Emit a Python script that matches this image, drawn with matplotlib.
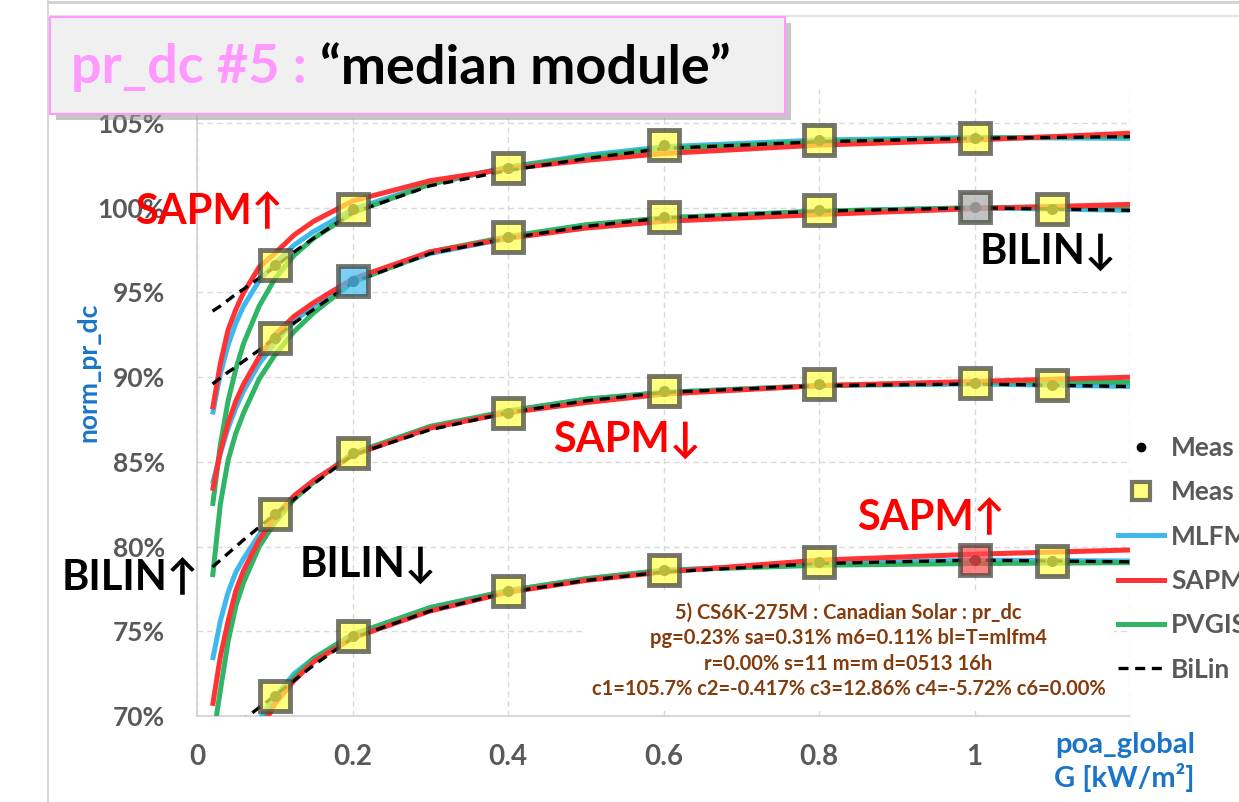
import matplotlib
matplotlib.use("Agg")
import matplotlib.pyplot as plt
from matplotlib.lines import Line2D
from matplotlib.patches import Rectangle

plt.rcParams['font.family'] = ['Lato', 'DejaVu Sans']

# ---- data -------------------------------------------------------------
G = [0.02, 0.03, 0.04, 0.05, 0.06, 0.08, 0.1, 0.125, 0.15, 0.2,
     0.3, 0.4, 0.5, 0.6, 0.8, 1.0, 1.2]

# four module conditions (top to bottom), normalised pr_dc in %
mlfm_1 = [87.8, 90.2, 91.9, 93.2, 94.2, 95.7, 96.7, 97.8, 98.6, 99.9,
          101.4, 102.4, 103.1, 103.6, 104.0, 104.15, 104.1]
sapm_1 = [88.1, 90.8, 92.8, 94.0, 95.0, 96.5, 97.3, 98.4, 99.2, 100.4,
          101.6, 102.3, 102.8, 103.2, 103.7, 104.0, 104.4]
pvgis_1 = [82.4, 86.0, 88.6, 90.5, 92.0, 94.2, 95.8, 97.2, 98.2, 99.7,
           101.4, 102.4, 103.0, 103.5, 103.9, 104.1, 104.25]
bilin_1 = [93.9, 94.2, 94.55, 94.9, 95.2, 95.85, 96.5, 97.4, 98.2, 99.7,
           101.3, 102.2, 102.9, 103.5, 103.9, 104.1, 104.2]

mlfm_2 = [83.7, 85.5, 87.0, 88.2, 89.2, 90.8, 92.0, 93.3, 94.2, 95.7,
          97.3, 98.2, 98.9, 99.4, 99.8, 100.0, 99.85]
sapm_2 = [83.3, 85.6, 87.3, 88.6, 89.6, 91.2, 92.5, 93.6, 94.4, 95.8,
          97.4, 98.2, 98.8, 99.2, 99.6, 99.95, 100.2]
pvgis_2 = [78.2, 82.5, 85.1, 86.7, 87.9, 89.9, 91.3, 92.7, 93.8, 95.6,
           97.4, 98.3, 99.0, 99.4, 99.8, 100.0, 100.1]
bilin_2 = [89.6, 89.95, 90.3, 90.6, 90.95, 91.6, 92.3, 93.2, 94.0, 95.6,
           97.3, 98.2, 98.9, 99.4, 99.8, 100.0, 99.85]

mlfm_3 = [73.3, 75.6, 77.3, 78.5, 79.3, 80.7, 81.8, 83.0, 83.9, 85.4,
          87.0, 88.0, 88.7, 89.1, 89.5, 89.6, 89.45]
sapm_3 = [70.6, 73.5, 75.6, 77.4, 78.6, 80.4, 81.7, 83.0, 83.9, 85.4,
          87.0, 87.9, 88.5, 89.0, 89.5, 89.75, 90.0]
pvgis_3 = [68.5, 71.5, 74.4, 76.5, 77.9, 80.0, 81.4, 82.8, 83.8, 85.5,
           87.1, 88.0, 88.7, 89.1, 89.5, 89.7, 89.7]
bilin_3 = [78.8, 79.2, 79.6, 80.0, 80.4, 81.15, 81.9, 82.8, 83.7, 85.4,
           86.9, 87.9, 88.6, 89.1, 89.5, 89.6, 89.45]

mlfm_4 = [61.5, 64.0, 66.0, 67.5, 68.6, 69.8, 71.1, 72.5, 73.4, 74.8,
          76.4, 77.4, 78.1, 78.6, 79.0, 79.2, 79.15]
sapm_4 = [55.0, 59.0, 62.5, 65.5, 67.2, 69.0, 70.7, 72.1, 73.2, 74.6,
          76.2, 77.3, 78.0, 78.5, 79.2, 79.55, 79.8]
pvgis_4 = [58.0, 62.0, 65.0, 66.5, 67.9, 69.3, 70.9, 72.3, 73.4, 74.8,
           76.4, 77.4, 78.1, 78.6, 78.9, 79.0, 79.05]
bilin_4 = [68.4, 68.75, 69.1, 69.45, 69.8, 70.5, 71.2, 72.1, 73.0, 74.6,
           76.2, 77.3, 78.0, 78.5, 79.0, 79.2, 79.1]

# measured points
meas_g_1 = [0.1, 0.2, 0.4, 0.6, 0.8, 1.0]
meas_1 = [96.6, 99.9, 102.35, 103.7, 104.0, 104.1]
meas_g = [0.1, 0.2, 0.4, 0.6, 0.8, 1.0, 1.1]
meas_2 = [92.3, 95.7, 98.25, 99.45, 99.85, 100.03, 99.9]
meas_3 = [81.9, 85.5, 87.9, 89.2, 89.6, 89.65, 89.55]
meas_4 = [71.2, 74.7, 77.4, 78.6, 79.1, 79.2, 79.17]

YELLOW = (1.0, 1.0, 0.3, 0.7)
BLUE_SQ = (0.30, 0.75, 0.95, 0.75)
GREY_SQ = (0.70, 0.70, 0.70, 0.8)
RED_SQ = (1.0, 0.30, 0.30, 0.7)
face_1 = [YELLOW] * 6
face_2 = [YELLOW, BLUE_SQ, YELLOW, YELLOW, YELLOW, GREY_SQ, YELLOW]
face_3 = [YELLOW] * 7
face_4 = [YELLOW, YELLOW, YELLOW, YELLOW, YELLOW, RED_SQ, YELLOW]

x_ticks = [0, 0.2, 0.4, 0.6, 0.8, 1.0, 1.2]
x_tick_labels = ["0", "0.2", "0.4", "0.6", "0.8", "1", ""]
y_ticks = [70, 75, 80, 85, 90, 95, 100, 105]

info_lines = [
    "5) CS6K-275M : Canadian Solar : pr_dc",
    "pg=0.23% sa=0.31% m6=0.11% bl=T=mlfm4",
    "r=0.00% s=11 m=m d=0513 16h",
    "c1=105.7% c2=-0.417% c3=12.86% c4=-5.72% c6=0.00%",
]

# ---- figure -----------------------------------------------------------
W, H = 1239, 802
fig = plt.figure(figsize=(W / 100, H / 100), dpi=100)


def fx(px):
    return px / W


def fy(py):
    return 1 - py / H


ax = fig.add_axes([fx(197), fy(716), fx(1130) - fx(197), fy(89.2) - fy(716)])
ax.set_xlim(0, 1.2)
ax.set_ylim(70, 107)
ax.set_axisbelow(True)
ax.grid(True, color="#D9D9D9", lw=1.0, ls=(0, (4, 3)))
for s in ["top", "right"]:
    ax.spines[s].set_visible(False)
for s in ["left", "bottom"]:
    ax.spines[s].set_color("#D0D0D0")
    ax.spines[s].set_linewidth(1.2)
ax.tick_params(length=0)
ax.set_xticks(x_ticks)
ax.set_xticklabels(x_tick_labels, fontsize=20, color="#595959",
                   fontweight="bold")
ax.set_yticks(y_ticks)
ax.set_yticklabels([f"{v}%" for v in y_ticks], fontsize=19,
                   color="#595959", fontweight="bold")
ax.tick_params(axis="x", pad=20)
ax.tick_params(axis="y", pad=23)

C_MLFM = "#3FB8EE"
C_SAPM = "#FF3333"
C_PVGIS = "#2FB565"

groups = [
    (mlfm_1, sapm_1, pvgis_1, bilin_1, meas_g_1, meas_1, face_1),
    (mlfm_2, sapm_2, pvgis_2, bilin_2, meas_g, meas_2, face_2),
    (mlfm_3, sapm_3, pvgis_3, bilin_3, meas_g, meas_3, face_3),
    (mlfm_4, sapm_4, pvgis_4, bilin_4, meas_g, meas_4, face_4),
]
for mlfm, sapm, pvgis, bilin, mg, mv, faces in groups:
    ax.plot(G, mlfm, color=C_MLFM, lw=3.6, zorder=3, solid_capstyle="butt")
    ax.plot(G, sapm, color=C_SAPM, lw=3.6, zorder=3.2, solid_capstyle="butt")
    ax.plot(G, pvgis, color=C_PVGIS, lw=3.6, zorder=3.1, solid_capstyle="butt")
    ax.plot(G, bilin, color="black", lw=2.4, ls=(0, (3, 2)), zorder=4)
    ax.plot(mg, mv, ls="none", marker="o", color="#1A1A1A", markersize=7,
            zorder=5)
    for g, v, fc in zip(mg, mv, faces):
        ax.plot([g], [v], ls="none", marker="s", markersize=22, mfc=fc,
                mec=(0.28, 0.28, 0.25, 0.75), mew=3.5, zorder=6)

# axis titles
fig.text(fx(88), fy(372), "norm_pr_dc", rotation=90, ha="center",
         va="center", color="#1A75C8", fontsize=19, fontweight="bold")
fig.text(fx(1195), fy(745), "poa_global", ha="right", va="center",
         color="#1A75C8", fontsize=21, fontweight="bold")
fig.text(fx(1195), fy(778), "G [kW/m²]", ha="right", va="center",
         color="#1A75C8", fontsize=21, fontweight="bold")

# annotations of model deviations
notes = [
    ("SAPM↑", "#FF0000", 135, 212),
    ("BILIN↓", "black", 980, 252),
    ("SAPM↓", "#FF0000", 553, 440),
    ("SAPM↑", "#FF0000", 857, 518),
    ("BILIN↑", "black", 62, 578),
    ("BILIN↓", "black", 300, 565),
]
for txt, col, px, py in notes:
    fig.text(fx(px), fy(py), txt, color=col, fontsize=30, fontweight="bold",
             ha="left", va="center", zorder=8)

# fit summary
ax.text(0.838, 73.85, "\n".join(info_lines), ha="center", va="center",
        fontsize=14.5, fontweight="bold", color="#843C0C", linespacing=1.35,
        zorder=1, bbox=dict(facecolor="white", edgecolor="none", pad=6))

# legend
handles = [
    Line2D([], [], ls="none", marker="o", color="black", markersize=6),
    Line2D([], [], ls="none", marker="s", mfc=YELLOW,
           mec=(0.28, 0.28, 0.25, 0.75), mew=3, markersize=13),
    Line2D([], [], color=C_MLFM, lw=3.6),
    Line2D([], [], color=C_SAPM, lw=3.6),
    Line2D([], [], color=C_PVGIS, lw=3.6),
    Line2D([], [], color="black", lw=2.4, ls=(0, (3, 2))),
]
labels = ["Meas", "Meas", "MLFM", "SAPM", "PVGIS", "BiLin"]
leg = fig.legend(handles, labels, loc="upper left",
                 bbox_to_anchor=(fx(1118), fy(436)), frameon=False,
                 prop={"size": 19, "weight": "bold"}, labelspacing=0.77,
                 handlelength=1.75, handletextpad=0.27, borderpad=0,
                 borderaxespad=0)
for t in leg.get_texts():
    t.set_color("#595959")

# chart frame lines
fig.add_artist(Line2D([fx(48), fx(48)], [0, 1], color="#D0D0D0", lw=1.2))
fig.add_artist(Line2D([fx(48), 1], [fy(2), fy(2)], color="#D0D0D0", lw=2))
fig.add_artist(Line2D([fx(48), 1], [fy(16), fy(16)], color="#E3E3E3", lw=1.5))

# title box with shadow
bx0, bx1, by0, by1 = 50, 785, 17, 114
fig.add_artist(Rectangle((fx(bx0 + 6), fy(by1 + 6)), fx(bx1 - bx0),
                         fy(by0) - fy(by1), transform=fig.transFigure,
                         facecolor="#9A9A9A", edgecolor="none", alpha=0.55,
                         zorder=9))
fig.add_artist(Rectangle((fx(bx0), fy(by1)), fx(bx1 - bx0),
                         fy(by0) - fy(by1), transform=fig.transFigure,
                         facecolor="#F0F0F0", edgecolor="#FF99FF", lw=1.5,
                         zorder=10))
t1 = fig.text(fx(71), fy(68), "pr_dc #5 : ", color="#FF99FF", fontsize=39,
              fontweight="bold", va="center", ha="left", zorder=11)
fig.canvas.draw()
bb = t1.get_window_extent(fig.canvas.get_renderer())
fig.text(bb.x1 / W, fy(68), "“median module”", color="black", fontsize=39,
         fontweight="bold", va="center", ha="left", zorder=11)

fig.savefig("out.png", dpi=100)
